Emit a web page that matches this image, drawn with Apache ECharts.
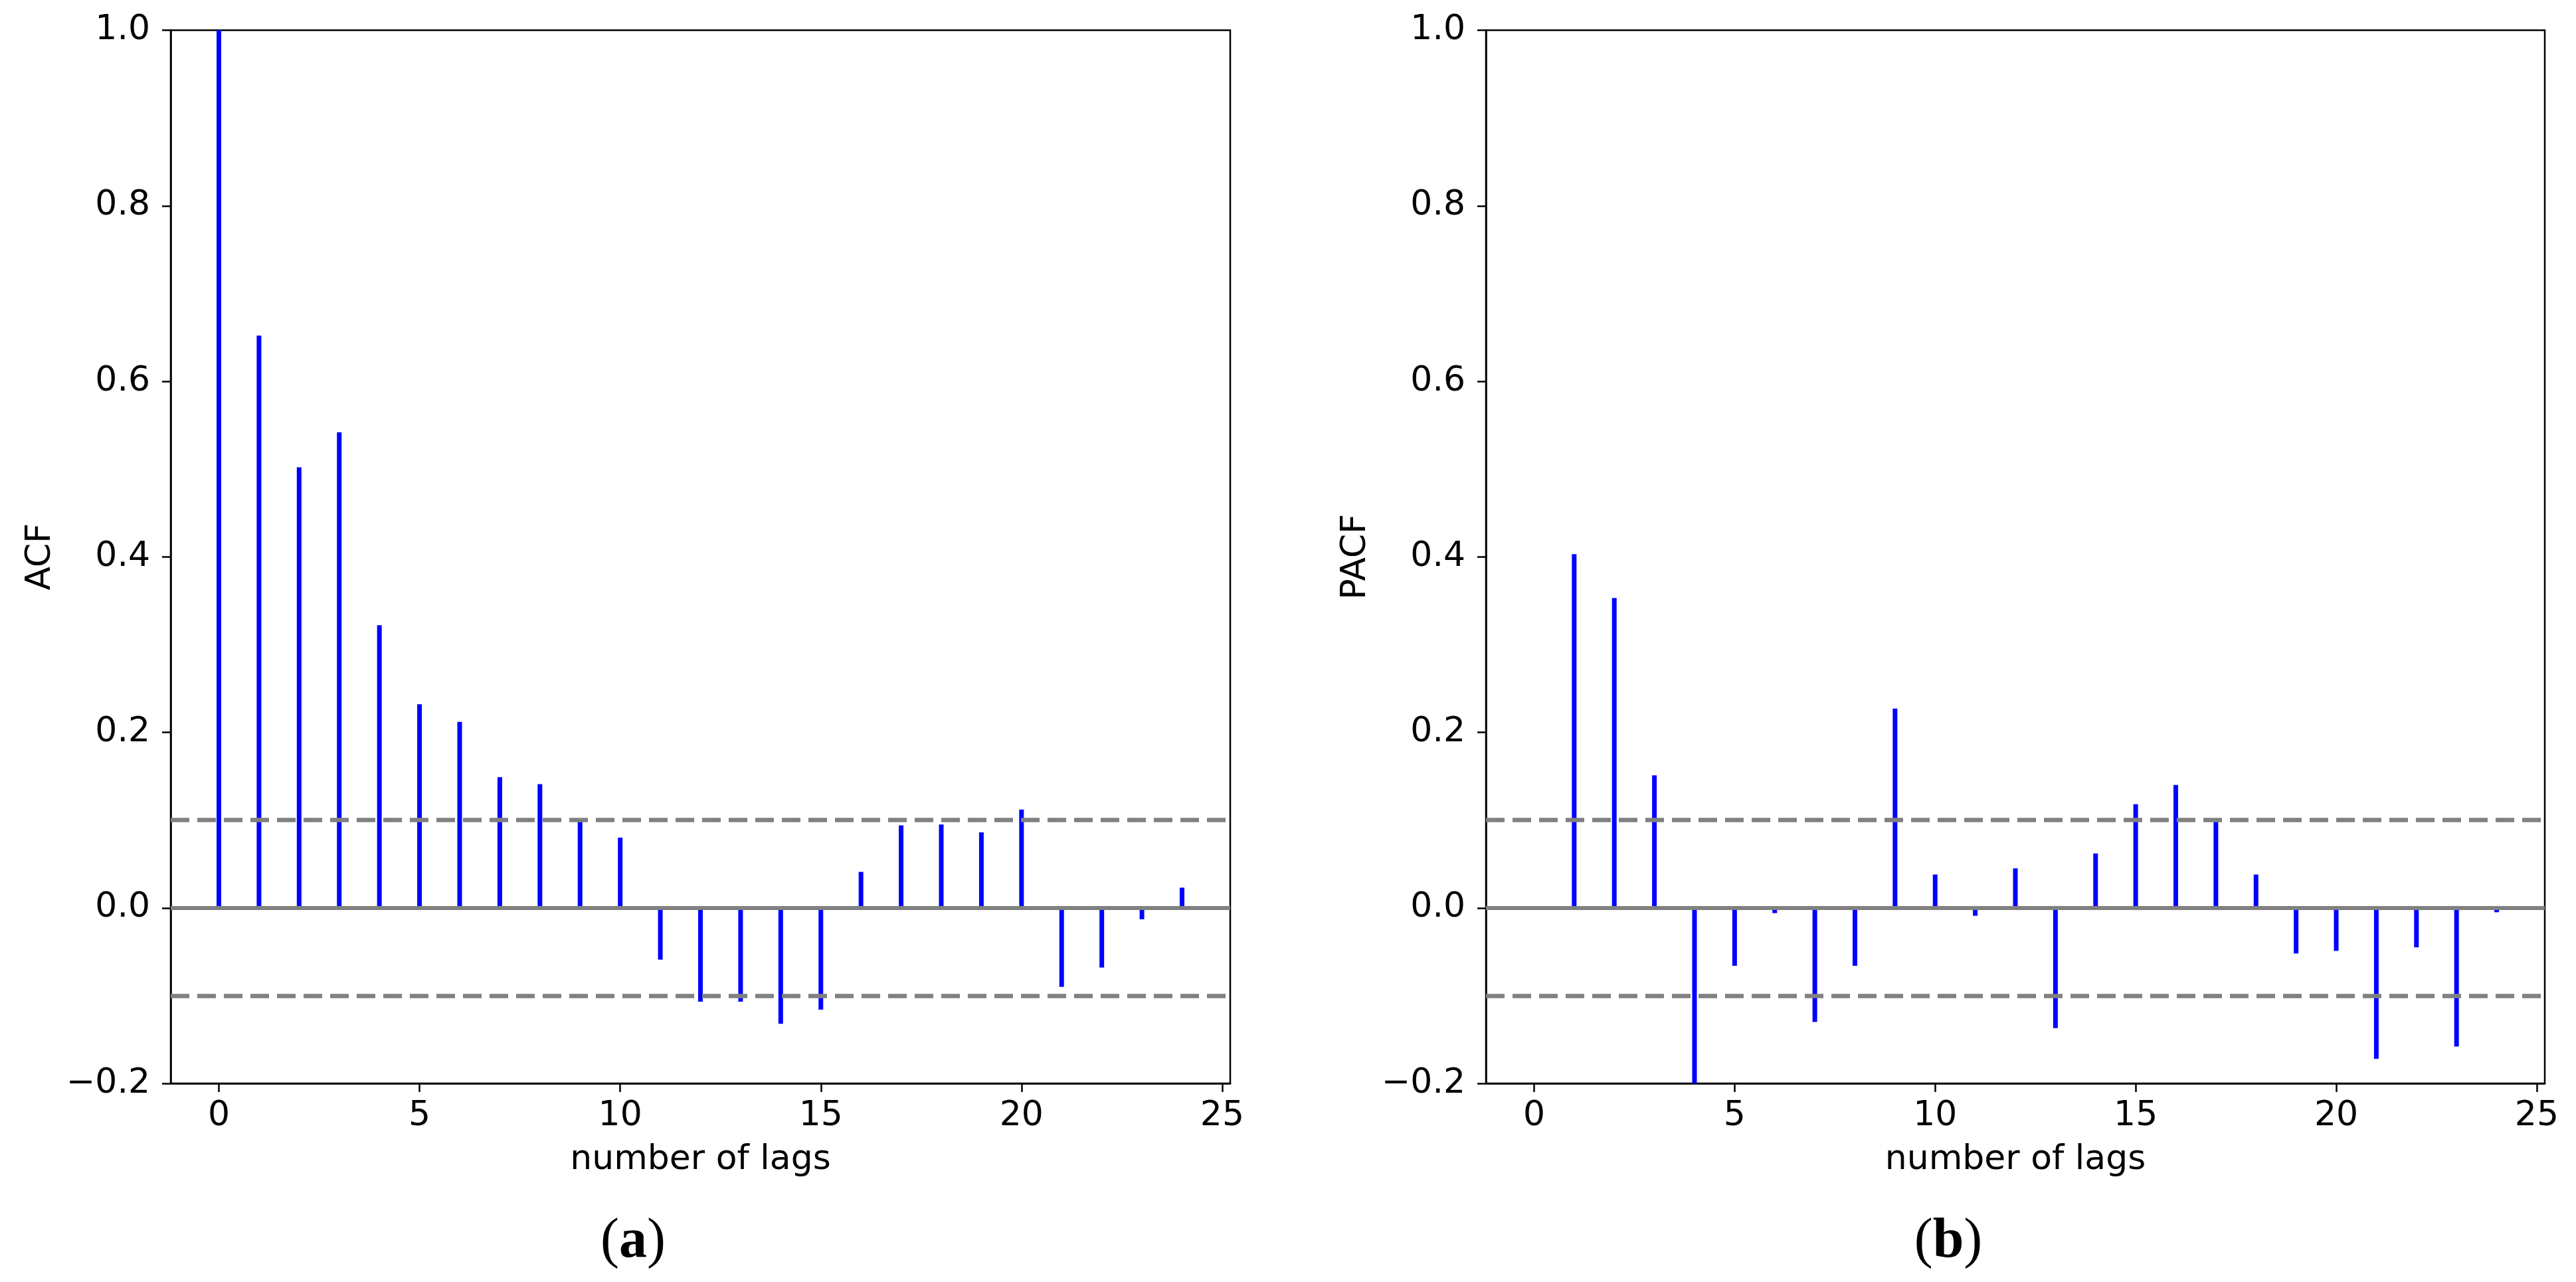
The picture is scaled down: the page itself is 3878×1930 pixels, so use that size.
<!DOCTYPE html>
<html>
<head>
<meta charset="utf-8">
<script src="https://cdn.jsdelivr.net/npm/echarts@6/dist/echarts.min.js"></script>
<style>
html,body{margin:0;padding:0;background:#fff;}
#chart{width:3878px;height:1930px;}
</style>
</head>
<body>
<div id="chart"></div>
<script>
// ---- data ----
const lags = [0,1,2,3,4,5,6,7,8,9,10,11,12,13,14,15,16,17,18,19,20,21,22,23,24];
const acfValues = [1.0, 0.652, 0.502, 0.542, 0.322, 0.232, 0.212, 0.149, 0.141, 0.098, 0.080,
  -0.059, -0.107, -0.107, -0.132, -0.116, 0.041, 0.094, 0.095, 0.086, 0.112, -0.090, -0.068, -0.013, 0.023];
const pacfValues = [null, 0.403, 0.353, 0.151, -0.200, -0.066, -0.006, -0.130, -0.066, 0.227, 0.038,
  -0.009, 0.045, -0.137, 0.062, 0.118, 0.140, 0.098, 0.038, -0.052, -0.049, -0.172, -0.045, -0.158, -0.005];
const confLevels = [0.1, -0.1];
const xTicks = [0, 5, 10, 15, 20, 25];
const yTicks = [-0.2, 0.0, 0.2, 0.4, 0.6, 0.8, 1.0];
const yNames = ['ACF', 'PACF'];
const xName = 'number of lags';
const panelLabels = ['a', 'b'];

// ---- styling ----
const FONT = 'DejaVu Sans';
const FS = 52;
const grids = [
  {left: 257, right: 3878 - 1852, top: 45.5, bottom: 1930 - 1631},
  {left: 2237, right: 3878 - 3831, top: 45.5, bottom: 1930 - 1631}
];

function fmtY(v){
  const s = Math.abs(v).toFixed(1);
  return (v < -1e-9 ? '\u2212' : '') + s;
}

const chart = echarts.init(document.getElementById('chart'), null, {renderer: 'canvas'});

const gridOpts = grids.map(g => Object.assign({
  show: true, borderColor: '#000', borderWidth: 2.5, backgroundColor: 'transparent', containLabel: false
}, g));

const xAxes = grids.map((g, i) => ({
  type: 'value', gridIndex: i, min: -1.2, max: 25.2,
  name: xName, nameLocation: 'middle', nameGap: 89,
  nameTextStyle: {fontFamily: FONT, fontSize: FS, color: '#000'},
  axisLine: {show: true, onZero: false, lineStyle: {color: '#000', width: 2.5}},
  axisTick: {show: true, inside: false, length: 13, customValues: xTicks, lineStyle: {color: '#000', width: 2.5}},
  axisLabel: {show: true, customValues: xTicks, margin: 23, fontFamily: FONT, fontSize: FS, color: '#000'},
  splitLine: {show: false}
}));

const yAxes = grids.map((g, i) => ({
  type: 'value', gridIndex: i, min: -0.2, max: 1.0, interval: 0.2,
  name: yNames[i], nameLocation: 'middle', nameGap: 170, nameRotate: 90,
  nameTextStyle: {fontFamily: FONT, fontSize: FS, color: '#000'},
  axisLine: {show: true, onZero: false, lineStyle: {color: '#000', width: 2.5}},
  axisTick: {show: true, inside: false, length: 13, customValues: yTicks, lineStyle: {color: '#000', width: 2.5}},
  axisLabel: {show: true, customValues: yTicks, margin: 31, fontFamily: FONT, fontSize: FS, color: '#000', formatter: fmtY},
  splitLine: {show: false}
}));

function markLines(){
  const data = [{yAxis: 0, lineStyle: {type: 'solid', color: '#808080', width: 6}}];
  confLevels.forEach(c => data.push({yAxis: c, lineStyle: {type: [28, 12], color: '#808080', width: 6.5}}));
  return {silent: true, symbol: ['none', 'none'], label: {show: false}, animation: false, data: data};
}

const seriesVals = [acfValues, pacfValues];
const series = seriesVals.map((vals, i) => ({
  type: 'bar', xAxisIndex: i, yAxisIndex: i,
  barWidth: 7, itemStyle: {color: '#0000ff'},
  data: lags.map((l, k) => [l, vals[k]]).filter(d => d[1] !== null),
  markLine: markLines(),
  animation: false
}));

const labelCenters = [953, 2933];
const graphics = panelLabels.map((t, i) => ({
  type: 'text', x: labelCenters[i], y: 1870,
  style: {
    text: '{p|(}{b|' + t + '}{p|)}',
    align: 'center', verticalAlign: 'middle',
    rich: {
      p: {fontFamily: 'Liberation Serif', fontSize: 84, fill: '#000', color: '#000'},
      b: {fontFamily: 'Liberation Serif', fontSize: 84, fontWeight: 'bold', fill: '#000', color: '#000'}
    }
  }
}));

chart.setOption({
  backgroundColor: '#fff',
  animation: false,
  grid: gridOpts,
  xAxis: xAxes,
  yAxis: yAxes,
  series: series,
  graphic: graphics
});
</script>
</body>
</html>
